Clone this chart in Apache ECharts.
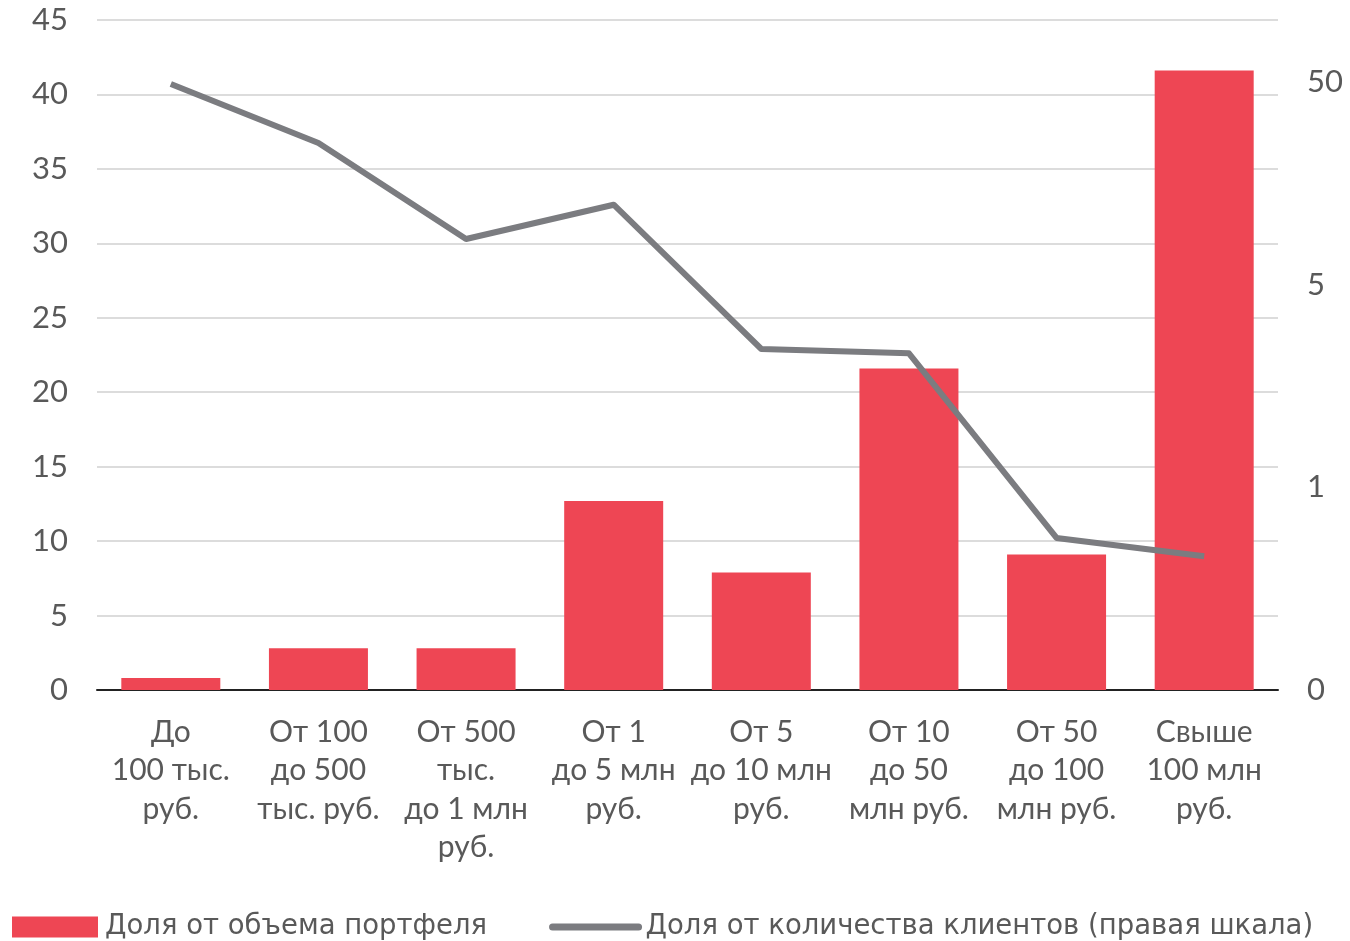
<!DOCTYPE html>
<html>
<head>
<meta charset="utf-8">
<script src="https://cdn.jsdelivr.net/npm/echarts@6/dist/echarts.min.js"></script>
<style>
  html, body { margin: 0; padding: 0; background: #fff; }
  #container { width: 1350px; height: 941px; }
</style>
</head>
<body>
<div id="container"></div>
<script>
var categories = [
	'До\n100 тыс.\nруб.',
	'От 100\nдо 500\nтыс. руб.',
	'От 500\nтыс.\nдо 1 млн\nруб.',
	'От 1\nдо 5 млн\nруб.',
	'От 5\nдо 10 млн\nруб.',
	'От 10\nдо 50\nмлн руб.',
	'От 50\nдо 100\nмлн руб.',
	'Свыше\n100 млн\nруб.'
];
// доля от объема портфеля, % (левая шкала)
var portfolioShare = [0.8, 2.8, 2.8, 12.7, 7.9, 21.6, 9.1, 41.6];
// доля от количества клиентов, % (правая шкала)
var clientShare = [48.9, 25.0, 8.4, 12.4, 3.0, 2.9, 0.75, 0.66];
// подписи правой шкалы: 0, 1, 5, 50 на равных шагах
var rightTicks = [0, 1, 5, 50];

// правая шкала: 0..1 линейно, 1..5 и 5..50 логарифмически, каждый отрезок одного размера
function toRight(v) {
	if (v <= 1) return v;
	if (v <= 5) return 1 + Math.log(v) / Math.log(5);
	return 2 + Math.log10(v / 5);
}

var dom = document.getElementById('container');
var myChart = echarts.init(dom);
var textColor = '#595959';
var axisFont = 'Lato, "Open Sans", sans-serif';
var lineColor = '#7b7c80';

var option = {
	backgroundColor: '#fff',
	animation: false,
	grid: {
		left: 97,
		right: 72,
		top: 20,
		bottom: 251,
		containLabel: false
	},
	legend: {
		left: 12,
		top: 913,
		padding: 0,
		itemWidth: 86,
		itemHeight: 21,
		itemGap: 62,
		textStyle: {
			color: textColor,
			fontSize: 27.5,
			fontFamily: '"DejaVu Sans", sans-serif',
			padding: [0, 0, 0, 2]
		},
		data: [
			{ name: 'Доля от объема портфеля', icon: 'rect' },
			{
				name: 'Доля от количества клиентов (правая шкала)',
				itemStyle: { color: 'rgba(0,0,0,0)', borderColor: 'rgba(0,0,0,0)', borderWidth: 0 },
				lineStyle: { color: lineColor, width: 7, cap: 'round' }
			}
		]
	},
	xAxis: {
		type: 'category',
		data: categories,
		axisLine: { lineStyle: { color: '#222', width: 2 } },
		axisTick: { length: 10, lineStyle: { color: '#222', width: 2 } },
		axisLabel: {
			interval: 0,
			margin: 23,
			color: textColor,
			fontSize: 30,
			lineHeight: 38.5,
			fontFamily: axisFont
		}
	},
	yAxis: [
		{
			type: 'value',
			min: 0,
			max: 45,
			interval: 5,
			axisLine: { show: false },
			axisTick: { show: false },
			splitLine: { lineStyle: { color: '#dcdcdc', width: 2 } },
			axisLabel: {
				margin: 29,
				color: textColor,
				fontSize: 31,
				fontFamily: axisFont
			}
		},
		{
			type: 'value',
			min: 0,
			max: 670 / 202.67,
			interval: 1,
			axisLine: { show: false },
			axisTick: { show: false },
			splitLine: { show: false },
			axisLabel: {
				margin: 29,
				color: textColor,
				fontSize: 31,
				fontFamily: axisFont,
				showMaxLabel: false,
				formatter: function (v) {
					var i = Math.round(v);
					if (Math.abs(v - i) > 1e-6 || i >= rightTicks.length) return '';
					return String(rightTicks[i]);
				}
			}
		}
	],
	series: [
		{
			name: 'Доля от объема портфеля',
			type: 'bar',
			barWidth: 99,
			itemStyle: { color: '#ee4654' },
			data: portfolioShare
		},
		{
			name: 'Доля от количества клиентов (правая шкала)',
			type: 'line',
			yAxisIndex: 1,
			symbol: 'none',
			lineStyle: { color: lineColor, width: 6, join: 'round' },
			itemStyle: { color: lineColor },
			data: clientShare.map(toRight)
		}
	]
};

myChart.setOption(option);
</script>
</body>
</html>
